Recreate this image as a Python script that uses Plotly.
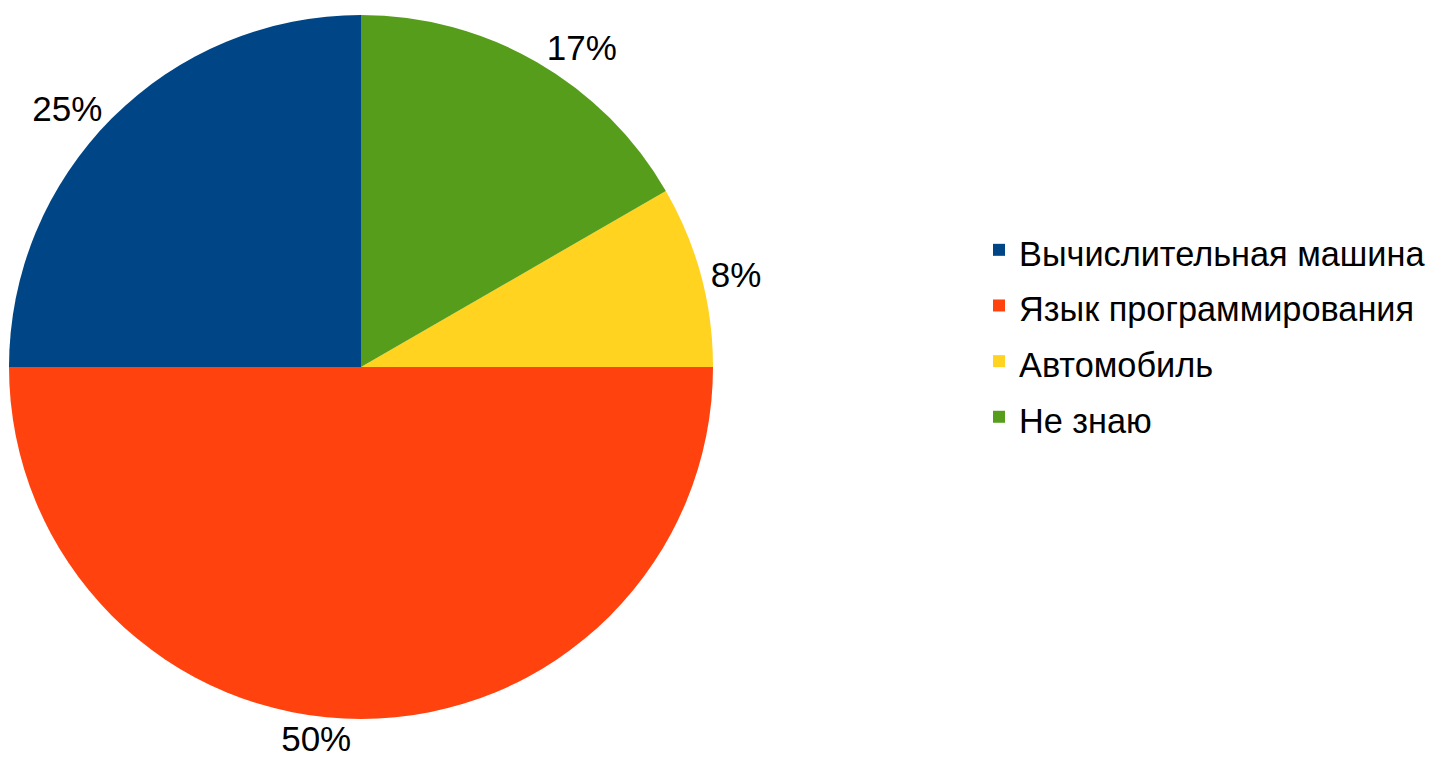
import plotly.graph_objects as go

labels = ["Вычислительная машина", "Язык программирования", "Автомобиль", "Не знаю"]
values = [3, 6, 1, 2]
colors = ["#004586", "#FF420E", "#FFD320", "#579D1C"]

W, H = 1446, 776
FONT = "Liberation Sans, Arial, sans-serif"

# legend text drawn at 34px while the legend row height follows a larger base font
legend_labels = ['<span style="font-size:34.3px">%s</span>' % s for s in labels]

fig = go.Figure(go.Pie(
    labels=legend_labels,
    values=values,
    sort=False,
    direction="counterclockwise",
    rotation=-90,
    marker=dict(colors=colors, line=dict(width=0)),
    textinfo="percent",
    texttemplate="%{percent:.0%}",
    textposition="outside",
    outsidetextfont=dict(family=FONT, size=35, color="#000000"),
    automargin=False,
    domain=dict(x=[1 / W, 705 / W], y=[(H - 711) / H, (H - 7) / H]),
    hoverinfo="label+percent",
))

fig.update_layout(
    width=W,
    height=H,
    margin=dict(l=0, r=0, t=0, b=0),
    paper_bgcolor="#FFFFFF",
    plot_bgcolor="#FFFFFF",
    showlegend=True,
    legend=dict(
        x=971 / W,
        y=(H - 209) / H,
        xanchor="left",
        yanchor="top",
        font=dict(family=FONT, size=40.5, color="#000000"),
        traceorder="normal",
        bgcolor="rgba(0,0,0,0)",
    ),
)

fig.write_html("out.html")
